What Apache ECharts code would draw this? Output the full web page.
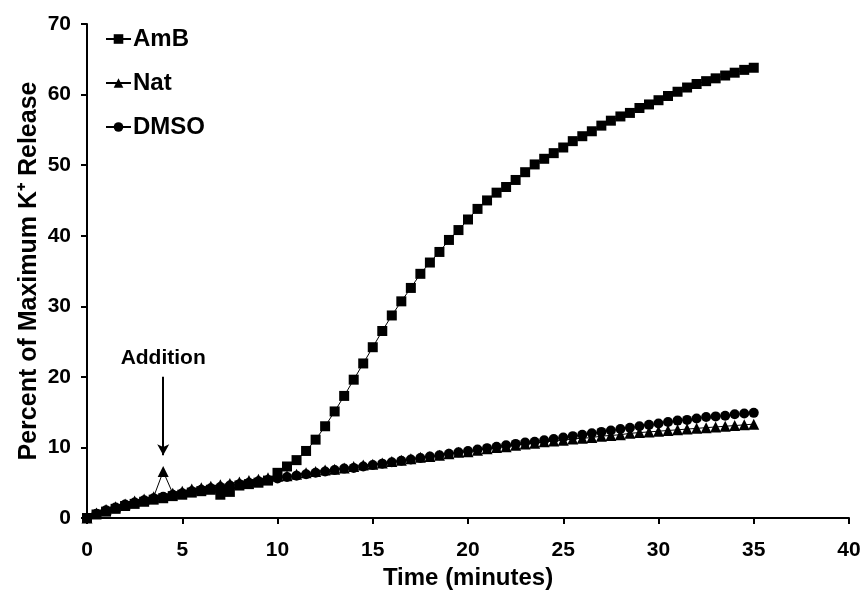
<!DOCTYPE html>
<html>
<head>
<meta charset="utf-8">
<script src="https://cdn.jsdelivr.net/npm/echarts@6/dist/echarts.min.js"></script>
<style>
  html, body { margin: 0; padding: 0; background: #fff; }
  #chart { width: 864px; height: 595px; }
</style>
</head>
<body>
<div id="chart"></div>
<script>
// time points, every half minute from 0 to 35
const times = [];
for (let i = 0; i <= 70; i++) times.push(i / 2);

const amb = [
  0, 0.5, 0.9, 1.3, 1.7, 2.0, 2.3, 2.6, 2.8, 3.1,
  3.3, 3.6, 3.8, 4.0, 3.3, 3.7, 4.6, 4.8, 5.0, 5.3,
  6.4, 7.3, 8.2, 9.5, 11.1, 13.0, 15.1, 17.3, 19.6, 21.9,
  24.2, 26.5, 28.7, 30.7, 32.6, 34.6, 36.2, 37.7, 39.4, 40.8,
  42.3, 43.8, 45.0, 46.1, 46.9, 47.9, 49.0, 50.1, 50.9, 51.7,
  52.5, 53.4, 54.1, 54.8, 55.6, 56.3, 56.9, 57.4, 58.1, 58.6,
  59.2, 59.8, 60.4, 61.0, 61.5, 61.9, 62.3, 62.7, 63.1, 63.5,
  63.8
];

const nat = [
  0, 0.7, 1.2, 1.6, 2.0, 2.4, 2.7, 3.0, 6.6, 3.5,
  3.8, 4.1, 4.3, 4.5, 4.7, 4.9, 5.1, 5.3, 5.5, 5.7,
  5.9, 6.0, 6.2, 6.4, 6.6, 6.8, 6.9, 7.1, 7.3, 7.5,
  7.6, 7.8, 8.0, 8.2, 8.4, 8.6, 8.7, 8.9, 9.1, 9.3,
  9.4, 9.6, 9.8, 10.0, 10.1, 10.3, 10.5, 10.6, 10.8, 10.9,
  11.0, 11.2, 11.3, 11.4, 11.6, 11.7, 11.8, 12.0, 12.1, 12.2,
  12.3, 12.4, 12.5, 12.6, 12.7, 12.8, 12.9, 13.0, 13.1, 13.2,
  13.3
];

const dmso = [
  0, 0.6, 1.1, 1.5, 1.9, 2.2, 2.5, 2.8, 3.0, 3.3,
  3.5, 3.8, 4.0, 4.2, 4.4, 4.6, 4.8, 5.0, 5.2, 5.4,
  5.6, 5.8, 6.0, 6.2, 6.4, 6.6, 6.8, 7.0, 7.1, 7.3,
  7.5, 7.7, 7.9, 8.1, 8.3, 8.5, 8.7, 8.9, 9.1, 9.3,
  9.5, 9.7, 9.9, 10.1, 10.3, 10.5, 10.7, 10.8, 11.0, 11.2,
  11.4, 11.6, 11.8, 12.0, 12.2, 12.4, 12.6, 12.8, 13.0, 13.2,
  13.4, 13.6, 13.8, 13.9, 14.1, 14.3, 14.4, 14.5, 14.7, 14.8,
  14.9
];

// where the compound was added (arrow from 20 down to just above the Nat spike)
const additionTime = 4;
const arrowFrom = 20;
const arrowTo = 8.9;

const font = 'Liberation Sans, Arial, sans-serif';

function pairs(vals) {
  return times.map((t, i) => [t, vals[i]]);
}

const chart = echarts.init(document.getElementById('chart'));

function lineSeries(name, symbol, vals) {
  return {
    name: name,
    type: 'line',
    data: pairs(vals),
    symbol: symbol,
    symbolSize: symbol === 'triangle' ? 11 : 10,
    clip: false,
    lineStyle: { color: '#000', width: 1 },
    itemStyle: { color: '#000', borderWidth: 0 },
    emphasis: { disabled: true },
    z: 3
  };
}

const natSeries = lineSeries('Nat', 'triangle', nat);
natSeries.markLine = {
  silent: true,
  symbol: ['none', 'arrow'],
  symbolSize: [9, 11],
  lineStyle: { color: '#000', width: 2, type: 'solid' },
  label: {
    show: true,
    position: 'start',
    formatter: 'Addition',
    color: '#000',
    fontFamily: font,
    fontWeight: 'bold',
    fontSize: 21,
    distance: 8
  },
  data: [[{ coord: [additionTime, arrowFrom] }, { coord: [additionTime, arrowTo] }]]
};

const option = {
  animation: false,
  backgroundColor: '#fff',
  textStyle: { fontFamily: font },
  grid: { left: 87, right: 15, top: 24, bottom: 77 },
  legend: {
    orient: 'vertical',
    left: 105,
    top: 27,
    padding: 0,
    itemWidth: 25,
    itemHeight: 12,
    itemGap: 20,
    textStyle: { color: '#000', fontFamily: font, fontWeight: 'bold', fontSize: 24, padding: [0, 0, 0, -3] },
    data: ['AmB', 'Nat', 'DMSO']
  },
  xAxis: {
    type: 'value',
    min: 0,
    max: 40,
    interval: 5,
    name: 'Time (minutes)',
    nameLocation: 'middle',
    nameGap: 48,
    nameMoveOverlap: false,
    nameTextStyle: { color: '#000', fontWeight: 'bold', fontSize: 24, fontFamily: font },
    axisLine: { onZero: false, lineStyle: { color: '#000', width: 2 } },
    axisTick: { show: true, length: 6, lineStyle: { color: '#000', width: 2 } },
    axisLabel: { color: '#000', fontWeight: 'bold', fontSize: 21, margin: 22, fontFamily: font },
    splitLine: { show: false }
  },
  yAxis: {
    type: 'value',
    min: 0,
    max: 70,
    interval: 10,
    name: 'Percent of Maximum K\u207A Release',
    nameLocation: 'middle',
    nameGap: 45,
    nameMoveOverlap: false,
    nameRotate: 90,
    nameTextStyle: { color: '#000', fontWeight: 'bold', fontSize: 25, fontFamily: font },
    axisLine: { show: true, lineStyle: { color: '#000', width: 2 } },
    axisTick: { show: true, length: 6, lineStyle: { color: '#000', width: 2 } },
    axisLabel: { color: '#000', fontWeight: 'bold', fontSize: 21, margin: 16, fontFamily: font },
    splitLine: { show: false }
  },
  series: [
    lineSeries('AmB', 'rect', amb),
    natSeries,
    lineSeries('DMSO', 'circle', dmso)
  ]
};

chart.setOption(option);
</script>
</body>
</html>
